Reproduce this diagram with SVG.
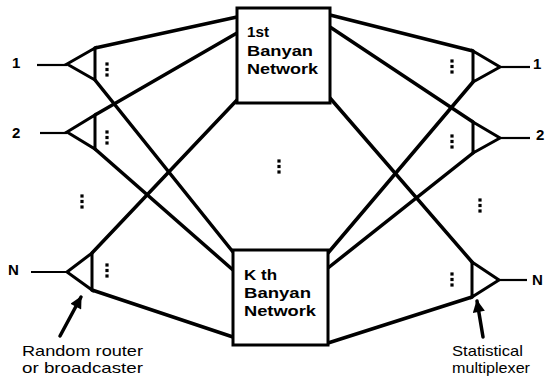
<svg xmlns="http://www.w3.org/2000/svg" width="545" height="379" viewBox="0 0 545 379">
  <style>
    .conn { stroke: #000; stroke-width: 3.5; fill: none; stroke-linecap: round; }
    .tri { stroke: #000; stroke-width: 3; fill: #fff; stroke-linejoin: miter; }
    .io { stroke: #000; stroke-width: 2.2; fill: none; }
    .box { stroke: #000; stroke-width: 3; fill: #fff; }
    .btxt { font-family: "Liberation Sans", Arial, sans-serif; font-weight: bold; font-size: 14px; fill: #000; }
    .port { font-family: "Liberation Sans", Arial, sans-serif; font-weight: bold; font-size: 15px; fill: #000; }
    .note { font-family: "Liberation Sans", Arial, sans-serif; font-size: 15px; fill: #000; }
  </style>
  <defs>
    <g id="vdots">
      <rect x="-1.6" y="-1.6" width="3.2" height="3.2" fill="#000"/>
      <rect x="-1.6" y="3.9" width="3.2" height="3.2" fill="#000"/>
      <rect x="-1.6" y="9.4" width="3.2" height="3.2" fill="#000"/>
    </g>
    <marker id="arrow" viewBox="0 0 10 10" refX="9" refY="5" markerWidth="4" markerHeight="3.5" orient="auto" markerUnits="strokeWidth">
      <path d="M0,0 L10,5 L0,10 z" fill="#000"/>
    </marker>
  </defs>
  <rect width="545" height="379" fill="#fff"/>

  <g id="connectors">
    <line class="conn" x1="95" y1="48" x2="237" y2="17"/>
    <line class="conn" x1="95" y1="80" x2="233" y2="252"/>
    <line class="conn" x1="95" y1="115" x2="237" y2="33"/>
    <line class="conn" x1="95" y1="149" x2="233" y2="270"/>
    <line class="conn" x1="92" y1="253" x2="237" y2="100"/>
    <line class="conn" x1="92" y1="290" x2="233" y2="337"/>
    <line class="conn" x1="330" y1="15" x2="473" y2="51"/>
    <line class="conn" x1="330" y1="27" x2="473" y2="122"/>
    <line class="conn" x1="330" y1="98" x2="472" y2="262"/>
    <line class="conn" x1="328" y1="253" x2="473" y2="82"/>
    <line class="conn" x1="328" y1="268" x2="473" y2="153"/>
    <line class="conn" x1="328" y1="343" x2="472" y2="297"/>
  </g>

  <g id="in1">
    <line class="io" x1="37" y1="65" x2="67" y2="65"/>
    <polygon class="tri" points="67,64 95,48 95,80"/>
    <text class="port" x="12" y="68">1</text>
    <use href="#vdots" x="107" y="64"/>
  </g>
  <g id="in2">
    <line class="io" x1="40" y1="133" x2="67" y2="133"/>
    <polygon class="tri" points="67,132 95,115 95,149"/>
    <text class="port" x="12" y="138">2</text>
    <use href="#vdots" x="107" y="132"/>
  </g>
  <g id="inN">
    <line class="io" x1="31" y1="272" x2="67" y2="272"/>
    <polygon class="tri" points="67,272 92,253 92,290"/>
    <text class="port" x="8" y="275">N</text>
    <use href="#vdots" x="107" y="265"/>
  </g>
  <use href="#vdots" x="82" y="196"/>

  <g id="banyan1">
    <rect class="box" x="237" y="8" width="93" height="95"/>
    <text class="btxt" x="247" y="37" textLength="22" lengthAdjust="spacingAndGlyphs">1st</text>
    <text class="btxt" x="247" y="56" textLength="66" lengthAdjust="spacingAndGlyphs">Banyan</text>
    <text class="btxt" x="247" y="74" textLength="71" lengthAdjust="spacingAndGlyphs">Network</text>
  </g>
  <use href="#vdots" x="279" y="161"/>
  <g id="banyanK">
    <rect class="box" x="233" y="250" width="95" height="95"/>
    <text class="btxt" x="244" y="280" textLength="33" lengthAdjust="spacingAndGlyphs">K th</text>
    <text class="btxt" x="244" y="298" textLength="67" lengthAdjust="spacingAndGlyphs">Banyan</text>
    <text class="btxt" x="244" y="316" textLength="72" lengthAdjust="spacingAndGlyphs">Network</text>
  </g>

  <g id="out1">
    <line class="io" x1="500" y1="67" x2="530" y2="67"/>
    <polygon class="tri" points="473,51 500,67 473,82"/>
    <text class="port" x="533" y="69">1</text>
    <use href="#vdots" x="452" y="61"/>
  </g>
  <g id="out2">
    <line class="io" x1="500" y1="138" x2="530" y2="138"/>
    <polygon class="tri" points="473,122 500,138 473,153"/>
    <text class="port" x="536" y="140">2</text>
    <use href="#vdots" x="452" y="136"/>
  </g>
  <g id="outN">
    <line class="io" x1="499" y1="280" x2="527" y2="280"/>
    <polygon class="tri" points="472,262 499,280 472,297"/>
    <text class="port" x="532" y="285">N</text>
    <use href="#vdots" x="452" y="274"/>
  </g>
  <use href="#vdots" x="480" y="200"/>

  <g id="label-router">
    <line class="conn" x1="60" y1="336" x2="81" y2="297" marker-end="url(#arrow)"/>
    <text class="note" x="22" y="356" textLength="121" lengthAdjust="spacingAndGlyphs">Random router</text>
    <text class="note" x="22" y="373" textLength="121" lengthAdjust="spacingAndGlyphs">or broadcaster</text>
  </g>
  <g id="label-mux">
    <line class="conn" x1="483" y1="337" x2="477" y2="301" marker-end="url(#arrow)"/>
    <text class="note" x="452" y="356" textLength="71" lengthAdjust="spacingAndGlyphs">Statistical</text>
    <text class="note" x="452" y="373" textLength="78" lengthAdjust="spacingAndGlyphs">multiplexer</text>
  </g>
</svg>
